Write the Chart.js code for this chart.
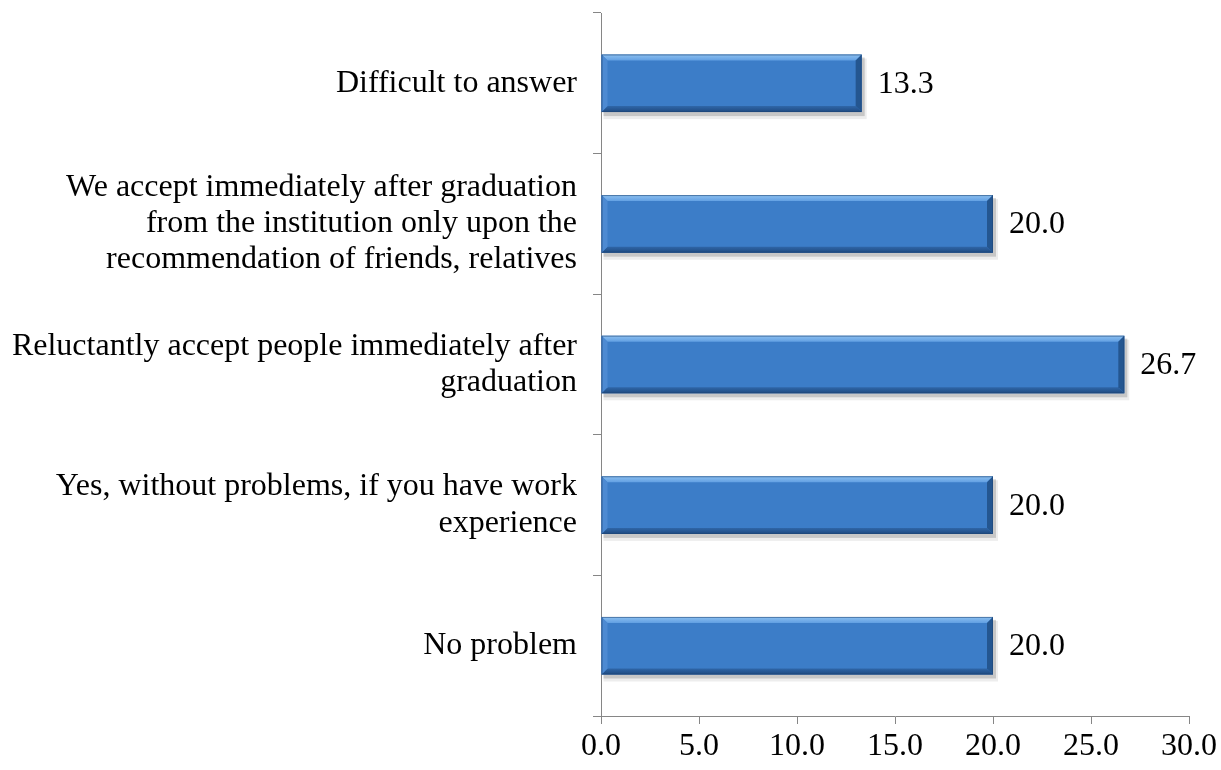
<!DOCTYPE html>
<html>
<head>
<meta charset="utf-8">
<script src="https://cdn.jsdelivr.net/npm/chart.js@4/dist/chart.umd.min.js"></script>
<style>
  html, body { margin: 0; padding: 0; background: #ffffff; }
  #wrap { width: 1221px; height: 770px; position: relative; }
</style>
</head>
<body>
<div id="wrap"><canvas id="c" width="1221" height="770"></canvas></div>
<script>
const categories = [
  ["Difficult to answer"],
  ["We accept immediately after graduation", "from the institution only upon the", "recommendation of friends, relatives"],
  ["Reluctantly accept people immediately after", "graduation"],
  ["Yes, without problems, if you have work", "experience"],
  ["No problem"]
];
const values = [13.3, 20.0, 26.7, 20.0, 20.0];
const xTicks = [0, 5, 10, 15, 20, 25, 30];

const FONT = "'Liberation Serif', 'Times New Roman', serif";
const AXIS = '#868686';
const FS = 32;

function barGradient(ctx) {
  const chart = ctx.chart;
  const el = chart.getDatasetMeta(0).data[ctx.dataIndex];
  if (!el || el.y === undefined) return '#3c7dc8';
  const h = el.height || 57;
  const top = el.y - h / 2, bot = el.y + h / 2;
  const g = chart.ctx.createLinearGradient(0, top, 0, bot);
  g.addColorStop(0, '#4f90da');
  g.addColorStop(0.5, '#3d7dc8');
  g.addColorStop(1, '#3470b9');
  return g;
}

const bevelPlugin = {
  id: 'bevel',
  beforeDatasetsDraw(chart) {
    const c = chart.ctx;
    chart.getDatasetMeta(0).data.forEach(el => {
      const h = el.height;
      const x0 = el.base, x1 = el.x, y0 = el.y - h / 2;
      c.save();
      c.fillStyle = 'rgba(0,0,0,0.16)';
      c.fillRect(x0 + 2, y0 + 3, x1 - x0 + 1, h + 1);
      c.fillStyle = 'rgba(0,0,0,0.07)';
      c.fillRect(x0 + 2, y0 + 4, x1 - x0 + 3, h + 3);
      c.restore();
    });
  },
  afterDatasetsDraw(chart) {
    const c = chart.ctx;
    chart.getDatasetMeta(0).data.forEach((el, i) => {
      const h = el.height;
      const x0 = el.base, x1 = el.x, y0 = el.y - h / 2, y1 = el.y + h / 2;
      const b = 6;
      c.save();
      let g = c.createLinearGradient(0, y0, 0, y0 + b);
      g.addColorStop(0, '#8dc0f0');
      g.addColorStop(1, '#62a0e3');
      c.fillStyle = g;
      c.beginPath();
      c.moveTo(x0, y0); c.lineTo(x1, y0); c.lineTo(x1 - b, y0 + b); c.lineTo(x0 + b, y0 + b); c.closePath(); c.fill();
      g = c.createLinearGradient(0, y1 - b, 0, y1);
      g.addColorStop(0, '#2f66a8');
      g.addColorStop(1, '#1f4a80');
      c.fillStyle = g;
      c.beginPath();
      c.moveTo(x0, y1); c.lineTo(x1, y1); c.lineTo(x1 - b, y1 - b); c.lineTo(x0 + b, y1 - b); c.closePath(); c.fill();
      c.fillStyle = '#4d8ad2';
      c.beginPath();
      c.moveTo(x0, y0); c.lineTo(x0 + b, y0 + b); c.lineTo(x0 + b, y1 - b); c.lineTo(x0, y1); c.closePath(); c.fill();
      c.fillStyle = '#245690';
      c.beginPath();
      c.moveTo(x1, y0); c.lineTo(x1 - b, y0 + b); c.lineTo(x1 - b, y1 - b); c.lineTo(x1, y1); c.closePath(); c.fill();
      c.strokeStyle = 'rgba(30,70,120,0.6)';
      c.lineWidth = 1;
      c.strokeRect(x0 + 0.5, y0 + 0.5, x1 - x0 - 1, h - 1);
      c.fillStyle = '#000';
      c.font = FS + 'px ' + FONT;
      c.textAlign = 'left';
      c.textBaseline = 'middle';
      c.fillText(values[i].toFixed(1), x1 + 16, el.y + 1);
      c.restore();
    });
  }
};

new Chart(document.getElementById('c'), {
  type: 'bar',
  data: {
    labels: categories,
    datasets: [{
      data: values,
      backgroundColor: barGradient,
      borderWidth: 0,
      categoryPercentage: 1.0,
      barPercentage: 0.41
    }]
  },
  options: {
    indexAxis: 'y',
    responsive: false,
    animation: false,
    devicePixelRatio: 1,
    layout: { padding: { top: 13, right: 32, left: 0, bottom: 0 } },
    plugins: { legend: { display: false }, tooltip: { enabled: false } },
    scales: {
      x: {
        min: 0, max: 30,
        afterBuildTicks(axis) { axis.ticks = xTicks.map(v => ({ value: v })); },
        afterFit(axis) { axis.height = 54; axis.paddingLeft = 0; axis.paddingRight = 0; },
        border: { display: true, color: AXIS, width: 1 },
        grid: { display: true, drawOnChartArea: false, drawTicks: true, tickLength: 8, color: AXIS },
        ticks: {
          color: '#000', padding: 3,
          font: { family: FONT, size: FS },
          maxRotation: 0,
          callback: v => Number(v).toFixed(1)
        }
      },
      y: {
        afterFit(axis) { axis.width = 601; axis.paddingTop = 0; axis.paddingBottom = 0; },
        border: { display: true, color: AXIS, width: 1 },
        grid: { display: true, drawOnChartArea: false, drawTicks: true, tickLength: 8, color: AXIS, offset: true },
        ticks: {
          color: '#000', padding: 16,
          font: { family: FONT, size: FS, lineHeight: 1.13 }
        }
      }
    }
  },
  plugins: [bevelPlugin]
});
</script>
</body>
</html>
